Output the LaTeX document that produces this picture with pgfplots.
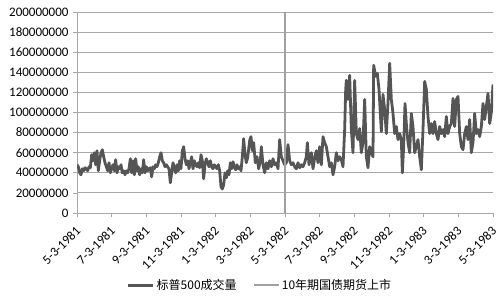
\documentclass[border=0pt]{standalone}
\usepackage{fontspec}
\setmainfont{Carlito}
\newfontfamily\cjk{Noto Sans CJK SC}
\usepackage{pgfplots}
\pgfplotsset{compat=1.18}
\usepackage{pgfplotstable}
\definecolor{serA}{HTML}{555555}
\definecolor{serB}{HTML}{A0A0A0}
\definecolor{gridc}{HTML}{A8A8A8}
\pgfplotstableread{
u v
0 48
4 46
8 40
12 38
16 44
20 42
24 45
28 44
32 42
36 46
40 45
44 58
48 52
52 60
56 48
60 62
64 42
68 52
72 60
76 63
80 56
84 50
88 46
92 42
96 50
100 40
104 45
108 48
112 42
116 53
120 40
124 46
128 44
132 48
136 40
140 42
144 38
148 42
152 40
156 44
160 54
164 40
168 52
172 38
176 54
180 42
184 46
188 38
192 44
196 40
200 53
204 40
208 46
212 42
216 44
220 45
224 36
228 46
232 44
236 48
240 46
244 50
248 56
252 60
256 52
260 50
264 46
268 48
272 46
276 44
280 30
284 40
288 50
292 45
296 40
300 48
304 42
308 52
312 44
316 62
320 66
324 54
328 48
332 52
336 44
340 50
344 56
348 44
352 52
356 48
360 46
364 50
368 45
372 58
376 52
380 34
384 48
388 54
392 50
396 46
400 52
404 46
408 44
412 48
416 46
420 44
424 48
428 42
432 26
436 24
440 28
444 40
448 35
452 42
456 38
460 50
464 44
468 51
472 46
476 43
480 48
484 44
488 46
492 42
496 56
500 74
504 58
508 50
512 55
518 72
522 76
526 62
530 70
535 50
540 56
545 44
550 52
553 66
558 48
563 40
568 50
573 44
578 52
583 46
588 54
593 48
598 50
603 44
608 73
613 56
618 52
623 48
628 50
633 68
638 52
643 48
648 50
653 46
658 44
663 50
668 45
673 48
678 46
683 50
688 56
691 70
696 48
703 60
708 44
713 55
718 62
723 50
728 66
733 48
738 76
743 70
748 66
753 56
758 46
763 50
768 38
773 46
778 60
783 52
788 56
793 53
798 46
803 83
806 122
808 132
813 113
818 137
823 83
828 60
833 132
838 79
843 73
848 84
853 60
858 70
863 113
868 56
873 45
878 66
883 60
888 56
890 147
896 136
901 139
906 123
913 81
918 118
923 103
928 79
933 110
938 149
943 113
948 99
953 79
958 86
963 73
968 79
973 73
976 40
980 66
984 109
988 89
993 70
998 60
1003 99
1008 86
1013 60
1018 66
1023 73
1028 56
1033 43
1038 83
1043 131
1048 123
1053 96
1058 79
1063 89
1068 79
1073 91
1078 79
1083 73
1088 86
1093 79
1098 83
1103 76
1108 96
1113 79
1118 86
1123 89
1128 114
1133 86
1138 113
1143 116
1148 79
1153 66
1158 63
1163 79
1168 86
1173 73
1178 93
1183 60
1188 70
1193 99
1198 79
1203 83
1208 76
1213 86
1218 109
1223 93
1228 106
1233 119
1238 89
1243 100
1248 128
}\vol
\begin{document}
\fontsize{13bp}{15bp}\selectfont
\begin{tikzpicture}
\useasboundingbox (0,0) rectangle (500bp,301bp);
\begin{axis}[
  at={(77bp,88bp)}, anchor=south west,
  scale only axis, width=416bp, height=201bp,
  xmin=0, xmax=1248, ymin=0, ymax=200,
  xtick={0,104,...,1248},
  xticklabels={5-3-1981,7-3-1981,9-3-1981,11-3-1981,1-3-1982,3-3-1982,5-3-1982,7-3-1982,9-3-1982,11-3-1982,1-3-1983,3-3-1983,5-3-1983},
  ytick={0,20,...,200},
  yticklabels={0,20000000,40000000,60000000,80000000,100000000,120000000,140000000,160000000,180000000,200000000},
  xticklabel style={rotate=45, anchor=north east, xshift=-3bp, font=\fontsize{13bp}{15bp}\selectfont},
  yticklabel style={font=\fontsize{13bp}{15bp}\selectfont},
  /pgf/number format/assume math mode=true,
  axis x line*=bottom, axis y line*=left,
  axis line style={gridc, line width=1pt, -},
  tick align=outside, xtick pos=bottom, ytick pos=left,
  major tick length=4bp,
  tick style={gridc, line width=0.8pt},
  ymajorgrids, grid style={gridc, line width=1pt},
  legend columns=-1,
  legend style={at={(0.44,-0.36)}, anchor=center, draw=none, fill=none,
    font=\cjk\fontsize{12bp}{14bp}\selectfont,
    /tikz/every even column/.append style={column sep=14bp}},
  legend image code/.code={\draw[#1] (0bp,0bp) -- (25bp,0bp);},
]
\addplot[serA, line width=2.8pt, line join=round] table[x=u, y=v] {\vol};
\addlegendentry{标普500成交量}
\addplot[serB, line width=2.2pt] coordinates {(624,0) (624,200)};
\addlegendentry{10年期国债期货上市}
\end{axis}
\end{tikzpicture}
\end{document}
